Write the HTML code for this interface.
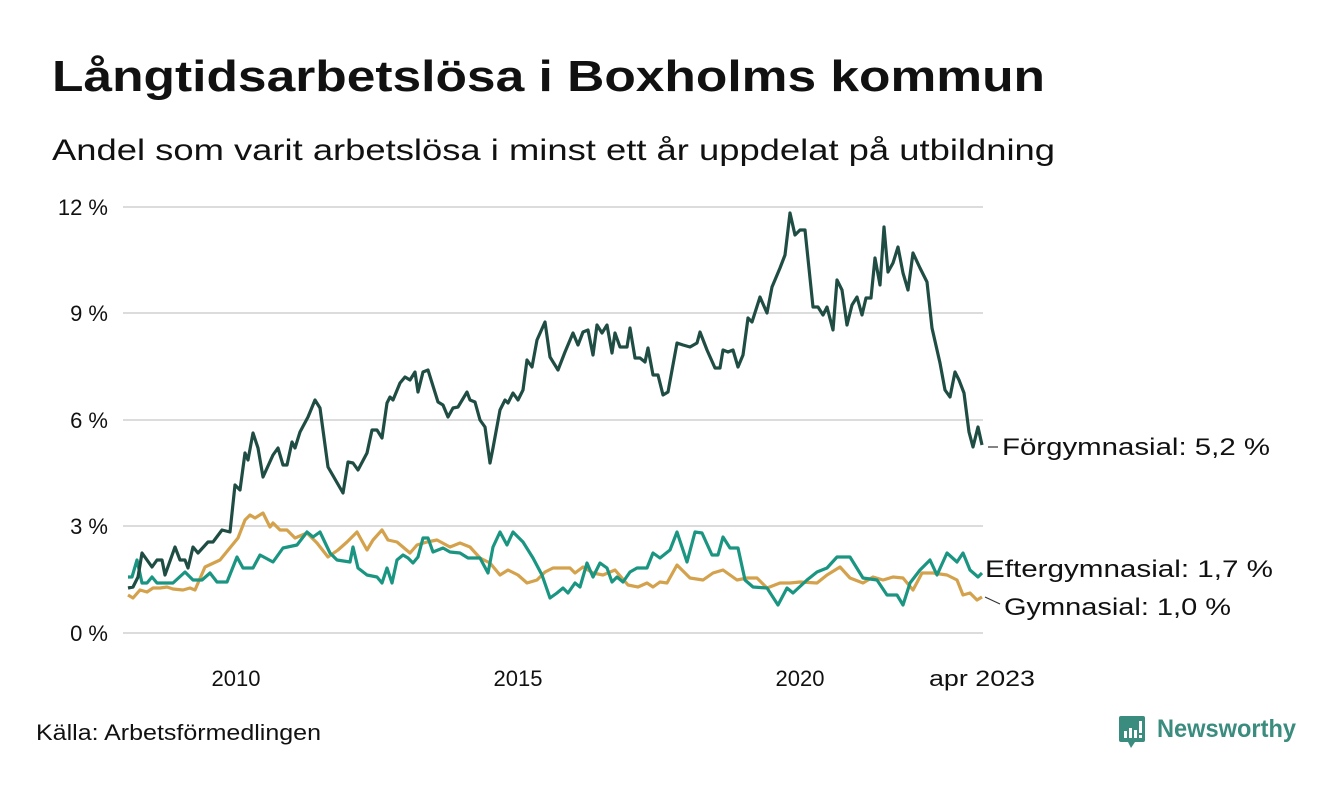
<!DOCTYPE html>
<html><head><meta charset="utf-8"><style>
body{margin:0;background:#fff;width:1340px;height:780px;overflow:hidden;font-family:"Liberation Sans",sans-serif;color:#111}
</style></head><body>
<svg width="1340" height="780" viewBox="0 0 1340 780" xmlns="http://www.w3.org/2000/svg" font-family="Liberation Sans, sans-serif">
<text x="52" y="91" font-size="44" font-weight="bold" fill="#111" textLength="993" lengthAdjust="spacingAndGlyphs">Långtidsarbetslösa i Boxholms kommun</text>
<text x="52" y="160" font-size="30" fill="#111" textLength="1003" lengthAdjust="spacingAndGlyphs">Andel som varit arbetslösa i minst ett år uppdelat på utbildning</text>
<g stroke="#dcdcdc" stroke-width="2">
<line x1="123" y1="207" x2="983" y2="207"/><line x1="123" y1="313" x2="983" y2="313"/><line x1="123" y1="420" x2="983" y2="420"/><line x1="123" y1="526" x2="983" y2="526"/><line x1="123" y1="633" x2="983" y2="633"/>
</g>
<g font-size="22" fill="#111" text-anchor="end">
<text x="108" y="215">12 %</text><text x="108" y="321">9 %</text><text x="108" y="428">6 %</text><text x="108" y="534">3 %</text><text x="108" y="641">0 %</text>
</g>
<g font-size="22" fill="#111" text-anchor="middle">
<text x="236" y="686">2010</text><text x="518" y="686">2015</text><text x="800" y="686">2020</text><text x="982" y="686" textLength="106" lengthAdjust="spacingAndGlyphs">apr 2023</text>
</g>
<g fill="none" stroke-width="3.2" stroke-linejoin="round">
<polyline stroke="#d4a24c" points="128,595 133,598 140,590 147,592 153,588 160,588 167,587 173,589 183,590 190,588 195,590 205,567 220,560 238,538 245,520 250,515 255,518 263,513 270,527 273,523 280,530 287,530 295,538 307,533 317,543 328,557 338,550 347,542 357,532 367,550 373,540 382,530 388,540 397,542 410,553 417,545 427,542 437,540 450,547 460,543 470,547 480,558 490,563 500,575 508,570 518,575 527,583 537,580 545,572 553,568 560,568 570,568 575,573 583,567 593,573 603,575 615,570 628,585 638,587 647,583 653,587 660,582 667,583 677,565 690,578 703,580 713,573 723,570 737,580 747,578 757,578 767,588 780,583 790,583 800,582 817,583 827,575 840,567 850,578 863,583 873,577 883,580 893,577 903,578 913,590 922,573 933,573 947,575 957,580 963,595 970,593 977,600 982,597"/>
<polyline stroke="#1a9582" points="128,577 132,577 137,560 142,583 147,583 152,577 157,583 173,583 185,572 193,580 202,580 210,573 217,582 227,582 237,557 243,568 253,568 260,555 273,562 283,548 297,545 307,532 313,537 320,532 330,553 337,560 350,562 353,547 358,568 367,575 377,577 382,583 387,568 392,583 397,560 403,555 408,558 413,563 418,557 423,538 428,538 433,552 443,548 450,552 460,553 468,558 480,558 488,573 493,547 500,532 507,545 513,532 523,542 533,558 542,575 550,598 557,593 563,588 568,593 575,583 580,587 587,563 593,577 600,563 607,568 612,582 617,577 623,582 630,572 637,568 647,568 653,553 660,558 670,550 677,532 687,562 695,532 702,533 712,555 718,555 723,537 730,548 738,548 745,580 753,587 767,588 778,605 787,588 793,593 807,580 817,572 827,568 837,557 850,557 863,578 877,580 887,595 897,595 903,605 910,583 920,570 930,560 937,575 947,553 957,562 963,553 970,570 978,577 982,573"/>
<polyline stroke="#1f4d44" points="128,588 133,587 138,577 142,553 152,567 157,560 162,560 165,575 175,547 180,560 185,560 188,568 193,547 198,553 208,542 213,542 222,530 230,532 235,485 240,490 245,453 248,460 253,433 258,448 263,477 273,455 278,448 283,465 287,465 292,442 295,448 300,432 308,417 315,400 320,408 328,467 343,493 348,462 353,463 358,470 367,453 372,430 377,430 382,438 387,403 390,397 393,400 400,383 405,377 410,380 415,372 418,392 423,372 428,370 438,402 443,405 448,417 453,408 458,407 467,392 470,400 475,402 480,420 485,427 490,463 493,448 500,410 505,400 508,403 513,393 518,400 523,390 527,360 532,367 537,340 545,322 550,357 558,370 565,352 573,333 578,345 583,332 588,330 593,355 597,325 602,333 607,325 612,353 615,333 620,347 627,347 630,328 635,358 640,358 645,362 648,348 653,375 658,375 663,395 668,392 677,343 683,345 690,347 697,343 700,332 707,350 715,368 720,368 723,350 728,352 733,350 738,367 743,355 748,318 752,322 760,297 767,313 772,287 780,268 785,255 790,213 795,235 800,230 805,230 813,307 818,307 823,315 827,307 833,330 837,280 842,290 847,325 852,305 857,297 862,315 866,298 871,298 875,258 880,285 884,227 888,272 893,263 898,247 903,273 908,290 913,253 920,268 927,282 932,328 940,363 945,390 950,397 955,372 959,380 964,393 969,432 973,447 978,427 982,445"/>
</g>
<g stroke="#333" stroke-width="1.2"><line x1="988" y1="447" x2="998" y2="447"/><line x1="985" y1="597" x2="1000" y2="604"/></g>
<g font-size="24" fill="#111">
<text x="1002" y="455" textLength="268" lengthAdjust="spacingAndGlyphs">Förgymnasial: 5,2 %</text>
<text x="985" y="577" textLength="288" lengthAdjust="spacingAndGlyphs">Eftergymnasial: 1,7 %</text>
<text x="1004" y="615" textLength="227" lengthAdjust="spacingAndGlyphs">Gymnasial: 1,0 %</text>
</g>
<text x="36" y="740" font-size="22" fill="#111" textLength="285" lengthAdjust="spacingAndGlyphs">Källa: Arbetsförmedlingen</text>
<g transform="translate(1119,716)">
<path d="M0,2 Q0,0 2,0 L24,0 Q26,0 26,2 L26,24 Q26,26 24,26 L16,26 L12,32 L9,26 L2,26 Q0,26 0,24 Z" fill="#3a8c7e"/>
<rect x="5" y="15" width="3" height="7" fill="#fff"/><rect x="10" y="12" width="3" height="10" fill="#fff"/><rect x="15" y="14" width="3" height="8" fill="#fff"/><rect x="20" y="5" width="3" height="12" fill="#fff"/><rect x="20" y="19" width="3" height="3" fill="#fff"/>
</g>
<text x="1157" y="737" font-size="25" font-weight="bold" fill="#3a8c7e" textLength="139" lengthAdjust="spacingAndGlyphs">Newsworthy</text>
</svg>
</body></html>
